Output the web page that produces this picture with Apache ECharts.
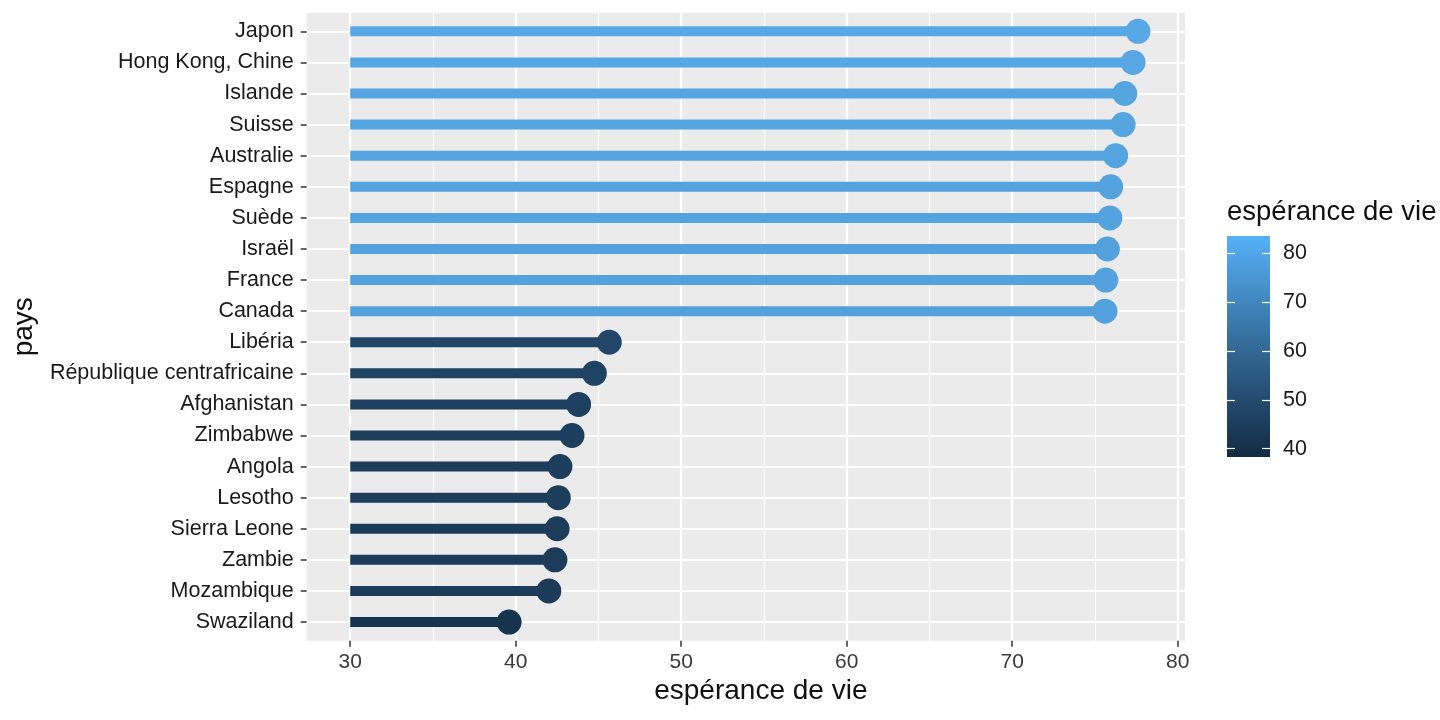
<!DOCTYPE html>
<html>
<head>
<meta charset="utf-8">
<script src="https://cdn.jsdelivr.net/npm/echarts@6/dist/echarts.min.js"></script>
<style>html,body{margin:0;padding:0;background:#fff}#c{width:1440px;height:720px}</style>
</head>
<body>
<div id="c"></div>
<script>
const countries = ["Japon","Hong Kong, Chine","Islande","Suisse","Australie","Espagne","Suède","Israël","France","Canada",
  "Libéria","République centrafricaine","Afghanistan","Zimbabwe","Angola","Lesotho","Sierra Leone","Zambie","Mozambique","Swaziland"];
const lifeExp = [77.6,77.3,76.8,76.7,76.25,75.95,75.9,75.75,75.65,75.6,
  45.65,44.75,43.8,43.4,42.67,42.57,42.5,42.37,42.0,39.6];
const xTicks = [30,40,50,60,70,80];
const xMinorTicks = [35,45,55,65,75];
const legendTicks = [40,50,60,70,80];
const stemStart = 30;

const FONT = "Liberation Sans, Arial, Helvetica, sans-serif";
const rowIdx = countries.map((_, i) => i);
const data = lifeExp.map((v, i) => [v, i]);

const chart = echarts.init(document.getElementById('c'));
chart.setOption({
  animation: false,
  textStyle: {fontFamily: FONT},
  title: {
    text: 'espérance de vie', left: 1227, top: 198, padding: 0,
    textStyle: {fontSize: 27.5, fontWeight: 'normal', color: '#111', fontFamily: FONT}
  },
  grid: [
    {left: 306.7, top: 12.7, width: 878.3, height: 628, backgroundColor: '#EBEBEB', show: true, borderWidth: 0},
    {left: 1227, top: 236, width: 43, height: 221, show: false}
  ],
  xAxis: [
    {type: 'value', gridIndex: 0, min: 27.37, max: 80.44,
     name: 'espérance de vie', nameLocation: 'middle', nameGap: 36,
     nameTextStyle: {fontSize: 28, color: '#111', padding: [0,0,0,30]},
     axisLine: {show: false, onZero: false},
     axisTick: {show: true, length: 6, lineStyle: {color: '#333', width: 1.5}, customValues: xTicks},
     axisLabel: {fontSize: 21, color: '#3a3a3a', margin: 11, customValues: xTicks},
     splitLine: {show: true, lineStyle: {color: '#fff', width: 2.2}}
    },
    {type: 'value', gridIndex: 0, min: 27.37, max: 80.44, position: 'bottom',
     axisLine: {show: false, onZero: false}, axisLabel: {show: false},
     axisTick: {show: false, customValues: xMinorTicks},
     splitLine: {show: true, lineStyle: {color: '#fff', width: 1.1}}
    },
    {type: 'category', gridIndex: 1, data: ['c'], show: false}
  ],
  yAxis: [
    {type: 'value', gridIndex: 0, min: -0.6, max: 19.6, inverse: true,
     name: 'pays', nameLocation: 'middle', nameGap: 268,
     nameTextStyle: {fontSize: 28, color: '#111'},
     axisLine: {show: false, onZero: false},
     axisTick: {show: true, length: 6, lineStyle: {color: '#333', width: 1.5}, customValues: rowIdx},
     axisLabel: {fontSize: 21.5, color: '#1a1a1a', margin: 13, customValues: rowIdx,
       formatter: v => countries[Math.round(v)]},
     splitLine: {show: true, lineStyle: {color: '#fff', width: 2.2}}
    },
    {type: 'value', gridIndex: 1, min: 38.3, max: 83.5, position: 'right',
     axisLine: {show: false},
     axisTick: {show: true, inside: true, length: 8, lineStyle: {color: '#fff', width: 1.2}, customValues: legendTicks},
     axisLabel: {fontSize: 21.5, color: '#1a1a1a', margin: 13, customValues: legendTicks},
     splitLine: {show: false}, z: 10
    },
    {type: 'value', gridIndex: 1, min: 38.3, max: 83.5, position: 'left',
     axisLine: {show: false}, axisLabel: {show: false},
     axisTick: {show: true, inside: true, length: 8, lineStyle: {color: '#fff', width: 1.2}, customValues: legendTicks},
     splitLine: {show: false}, z: 10
    }
  ],
  visualMap: {
    show: false, type: 'continuous', seriesIndex: 0, dimension: 0,
    min: 36.6, max: 79.5, inRange: {color: ['#132B43', '#336A98', '#5AAEEC']}
  },
  series: [
    {
      type: 'custom', xAxisIndex: 0, yAxisIndex: 0,
      data: data,
      encode: {x: 0, y: 1},
      renderItem: function (params, api) {
        const v = api.value(0), r = api.value(1);
        const p0 = api.coord([stemStart, r]);
        const p1 = api.coord([v, r]);
        const color = api.visual('color');
        return {
          type: 'group',
          children: [
            {type: 'line', shape: {x1: p0[0], y1: p0[1], x2: p1[0], y2: p1[1]},
             style: {stroke: color, lineWidth: 10, lineCap: 'butt'}},
            {type: 'circle', shape: {cx: p1[0], cy: p1[1], r: 12.5}, style: {fill: color}}
          ]
        };
      }
    },
    {
      type: 'custom', xAxisIndex: 2, yAxisIndex: 1,
      data: [[0, 38.3, 83.5]],
      renderItem: function (params, api) {
        const lo = api.coord([0, api.value(1)]);
        const hi = api.coord([0, api.value(2)]);
        const w = api.size([1, 0])[0];
        return {
          type: 'rect',
          shape: {x: lo[0] - w / 2, y: hi[1], width: w, height: lo[1] - hi[1]},
          style: {fill: new echarts.graphic.LinearGradient(0, 1, 0, 0, [
            {offset: 0, color: '#132B43'}, {offset: 0.5, color: '#336A98'}, {offset: 1, color: '#56B1F7'}
          ])}
        };
      }
    }
  ]
});
</script>
</body>
</html>
